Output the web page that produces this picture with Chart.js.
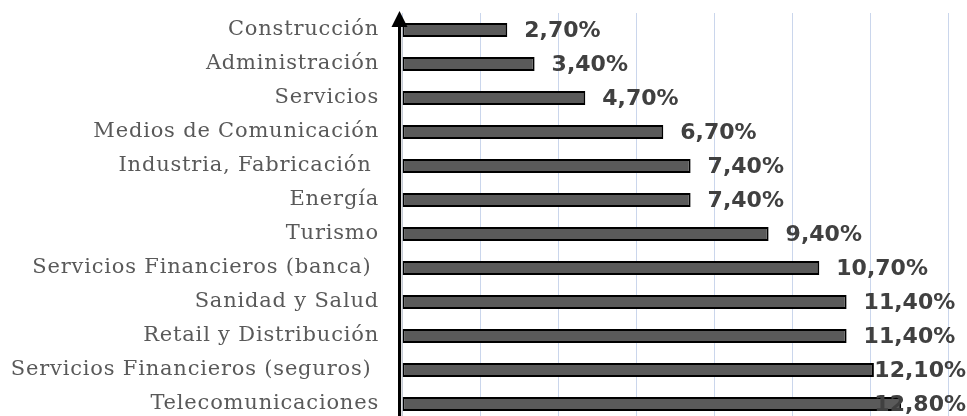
<!DOCTYPE html>
<html>
<head>
<meta charset="utf-8">
<script src="https://cdn.jsdelivr.net/npm/chart.js@4.4.1/dist/chart.umd.min.js"></script>
<style>
  html, body { margin: 0; padding: 0; background: #fff; overflow: hidden; }
  #wrap { position: absolute; left: 0; top: 0; width: 967px; height: 430px; }
</style>
</head>
<body>
<div id="wrap"><canvas id="sectorChart"></canvas></div>
<script>
// sectors, top to bottom as in the picture
const sectors = [
  'Construcción',
  'Administración',
  'Servicios',
  'Medios de Comunicación',
  'Industria, Fabricación ',
  'Energía',
  'Turismo',
  'Servicios Financieros (banca) ',
  'Sanidad y Salud',
  'Retail y Distribución',
  'Servicios Financieros (seguros) ',
  'Telecomunicaciones'
];
const percentages = [2.7, 3.4, 4.7, 6.7, 7.4, 7.4, 9.4, 10.7, 11.4, 11.4, 12.1, 12.8];
const valueLabels = ['2,70%', '3,40%', '4,70%', '6,70%', '7,40%', '7,40%', '9,40%', '10,70%', '11,40%', '11,40%', '12,10%', '12,80%'];

// draws the value text at the end of each bar, pushed back in when it would leave the canvas
const barValues = {
  id: 'barValues',
  afterDatasetsDraw(chart) {
    const ctx = chart.ctx;
    const meta = chart.getDatasetMeta(0);
    ctx.save();
    ctx.font = 'bold 22px "DejaVu Sans"';
    ctx.fillStyle = '#404040';
    ctx.textBaseline = 'middle';
    ctx.textAlign = 'left';
    meta.data.forEach((bar, i) => {
      const txt = valueLabels[i];
      const w = ctx.measureText(txt).width;
      const x = Math.min(bar.x + 17, chart.width - 1 - w);
      ctx.fillText(txt, x, bar.y + 1);
    });
    ctx.restore();
  }
};

// vertical axis with an arrow head on top
const arrowAxis = {
  id: 'arrowAxis',
  beforeDraw(chart) {
    chart.ctx.letterSpacing = '0.8px';
  },
  beforeDatasetsDraw(chart) {
    chart.ctx.letterSpacing = '0px';
  },
  afterDatasetsDraw(chart) {
    const ctx = chart.ctx;
    const x = chart.chartArea.left - 2.5;
    ctx.save();
    ctx.strokeStyle = '#bfbfbf';
    ctx.lineWidth = 1;
    ctx.beginPath();
    ctx.moveTo(x + 2.5, 24);
    ctx.lineTo(x + 2.5, chart.height);
    ctx.stroke();
    ctx.strokeStyle = '#000';
    ctx.lineWidth = 3;
    ctx.beginPath();
    ctx.moveTo(x, 24);
    ctx.lineTo(x, chart.height);
    ctx.stroke();
    ctx.fillStyle = '#000';
    ctx.beginPath();
    ctx.moveTo(x, 11);
    ctx.lineTo(x - 8, 27);
    ctx.lineTo(x + 8, 27);
    ctx.closePath();
    ctx.fill();
    ctx.restore();
  }
};

new Chart(document.getElementById('sectorChart'), {
  type: 'bar',
  data: {
    labels: sectors,
    datasets: [{
      data: percentages,
      backgroundColor: '#5a5a5a',
      borderColor: '#000',
      borderWidth: 2,
      borderSkipped: false,
      categoryPercentage: 1,
      barPercentage: 0.41
    }]
  },
  options: {
    indexAxis: 'y',
    responsive: true,
    maintainAspectRatio: false,
    animation: false,
    layout: { padding: { top: 13, right: 19, bottom: 9, left: 0 } },
    plugins: {
      legend: { display: false },
      tooltip: { enabled: false }
    },
    scales: {
      x: {
        min: 0,
        max: 14,
        afterFit(scale) { scale.height = 0; scale.paddingLeft = 0; scale.paddingRight = 0; },
        ticks: { display: false, stepSize: 2 },
        grid: { color: '#cad6ec', lineWidth: 1, drawTicks: false },
        border: { display: false }
      },
      y: {
        afterFit(scale) { scale.width = 402; scale.paddingTop = 0; scale.paddingBottom = 0; },
        ticks: {
          color: '#595959',
          padding: 23,
          font: { family: '"DejaVu Serif"', size: 21 }
        },
        grid: { display: false, drawTicks: false },
        border: { display: false }
      }
    }
  },
  plugins: [barValues, arrowAxis]
});
</script>
</body>
</html>
